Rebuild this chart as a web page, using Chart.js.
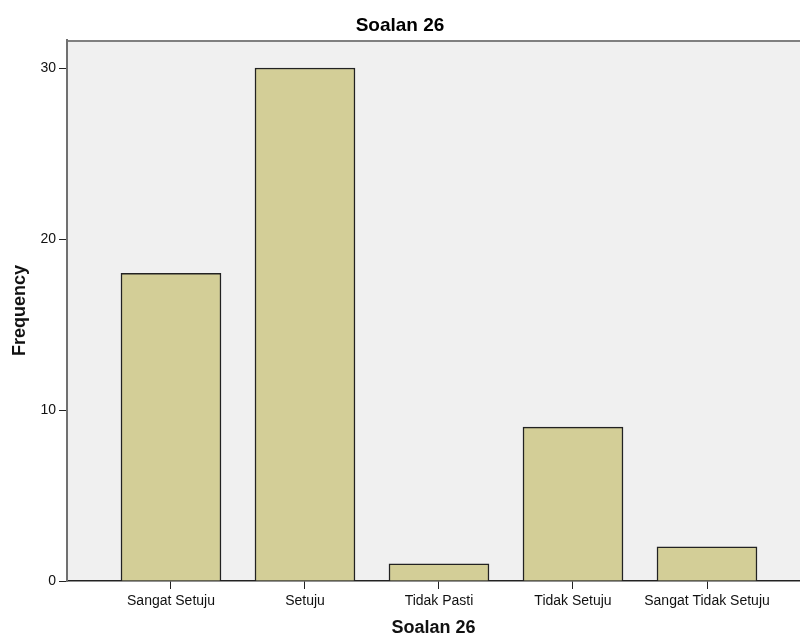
<!DOCTYPE html>
<html lang="en">
  <head>
    <meta charset="UTF-8" />
    <script src="https://cdn.jsdelivr.net/npm/chart.js@4.4.0/dist/chart.umd.min.js"></script>
    <title>Soalan 26</title>
    <style>
      body {
        margin: 0;
        padding: 0;
        background: white;
      }

      .container {
        width: 800px;
        height: 639px;
      }
    </style>
  </head>
  <body>
    <div class="container">
      <canvas id="chart"></canvas>
    </div>
    <script>
      const categories = ['Sangat Setuju', 'Setuju', 'Tidak Pasti', 'Tidak Setuju', 'Sangat Tidak Setuju']
      const frequency = [18, 30, 1, 9, 2]
      const yTicks = [0, 10, 20, 30]

      const font = "'Liberation Sans', Arial, sans-serif"

      // SPSS-like plot frame: grey fill with a grey top edge
      const plotFrame = {
        id: 'plotFrame',
        beforeDraw(chart) {
          const { ctx, chartArea: a } = chart
          ctx.save()
          ctx.fillStyle = '#f0f0f0'
          ctx.fillRect(a.left, a.top, a.right - a.left, a.bottom - a.top)
          ctx.strokeStyle = '#808080'
          ctx.lineWidth = 2
          ctx.beginPath()
          ctx.moveTo(a.left, a.top + 1)
          ctx.lineTo(a.right, a.top + 1)
          ctx.stroke()
          ctx.restore()
        },
      }

      const ctx = document.getElementById('chart').getContext('2d')
      new Chart(ctx, {
        type: 'bar',
        data: {
          datasets: [
            {
              data: categories.map((c, i) => ({ x: i, y: frequency[i] })),
              backgroundColor: '#d3ce97',
              borderColor: '#222222',
              borderWidth: 1.5,
              barThickness: 100,
            },
          ],
        },
        plugins: [plotFrame],
        options: {
          responsive: true,
          maintainAspectRatio: false,
          animation: false,
          layout: { padding: 0 },
          plugins: {
            legend: { display: false },
            tooltip: { enabled: false },
            title: {
              display: true,
              text: 'Soalan 26',
              color: '#000',
              font: { family: font, size: 19, weight: 'bold' },
              padding: { top: 14, bottom: 3.2 },
            },
          },
          scales: {
            x: {
              type: 'linear',
              offset: false,
              min: -0.776,
              max: 4.694,
              afterFit: (s) => { s.height = 58 },
              border: { display: true, color: '#222', width: 1.5 },
              grid: { offset: false, drawOnChartArea: false, drawTicks: true, tickLength: 8, color: '#222' },
              ticks: {
                stepSize: 1,
                includeBounds: false,
                autoSkip: false,
                maxRotation: 0,
                padding: 4,
                color: '#111',
                font: { family: font, size: 14 },
                callback: (v) => categories[v] ?? '',
              },
              title: {
                display: true,
                text: 'Soalan 26',
                color: '#111',
                font: { family: font, size: 18, weight: 'bold' },
                padding: { top: 0, bottom: 0 },
              },
            },
            y: {
              min: 0,
              max: 31.64,
              afterFit: (s) => { s.width = 67 },
              afterBuildTicks: (s) => { s.ticks = yTicks.map((v) => ({ value: v })) },
              border: { display: true, color: '#707070', width: 2 },
              grid: { drawOnChartArea: false, drawTicks: true, tickLength: 8, color: '#222' },
              ticks: {
                padding: 3,
                color: '#111',
                font: { family: font, size: 14 },
              },
              title: {
                display: true,
                text: 'Frequency',
                color: '#111',
                font: { family: font, size: 18, weight: 'bold' },
                padding: { top: 9, bottom: 0 },
              },
            },
          },
        },
      })
    </script>
  </body>
</html>
